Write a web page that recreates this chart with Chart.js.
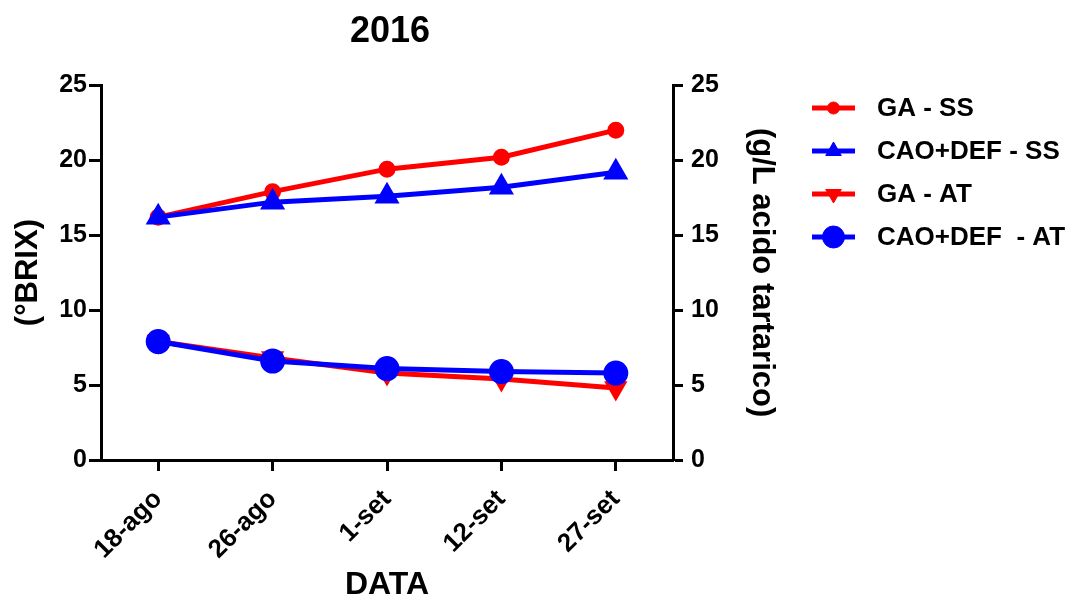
<!DOCTYPE html>
<html>
<head>
<meta charset="utf-8">
<title>2016</title>
<script src="https://cdn.jsdelivr.net/npm/chart.js@4/dist/chart.umd.min.js"></script>
<style>
  html, body { margin: 0; padding: 0; background: #ffffff; }
  #wrap { width: 1072px; height: 601px; }
</style>
</head>
<body>
<div id="wrap"><canvas id="chart" width="1072" height="601"></canvas></div>
<script>
// Sampling dates
const dates = ['18-ago', '26-ago', '1-set', '12-set', '27-set'];

// Soluble solids (°BRIX)
const gaSS = [16.2, 17.9, 19.4, 20.2, 22.0];
const caoDefSS = [16.2, 17.2, 17.6, 18.2, 19.2];

// Titratable acidity (g/L tartaric acid)
const gaAT = [7.9, 6.8, 5.8, 5.4, 4.8];
const caoDefAT = [7.9, 6.6, 6.1, 5.9, 5.8];

// Axis tick values shared by both vertical axes
const yTicks = [0, 5, 10, 15, 20, 25];

const seriesNames = ['GA - SS', 'CAO+DEF - SS', 'GA - AT', 'CAO+DEF  - AT'];

const RED = '#ff0000';
const BLUE = '#0000ff';
const FONT = '"Liberation Sans", Arial, Helvetica, sans-serif';

Chart.defaults.font.family = FONT;
Chart.defaults.font.weight = 'bold';
Chart.defaults.color = '#000000';

// Legend drawn to the right of the plot: line sample with marker, then label
const sideLegend = {
  id: 'sideLegend',
  afterDraw(chart) {
    const ctx = chart.ctx;
    const rows = [108, 151, 194, 237];
    const x0 = 812, x1 = 855, tx = 877;
    ctx.save();
    chart.data.datasets.forEach((ds, i) => {
      const y = rows[i];
      ctx.strokeStyle = ds.borderColor;
      ctx.fillStyle = ds.backgroundColor;
      ctx.lineWidth = 5;
      ctx.beginPath();
      ctx.moveTo(x0, y);
      ctx.lineTo(x1, y);
      ctx.stroke();
      const opts = {
        pointStyle: ds.pointStyle,
        rotation: ds.pointRotation || 0,
        radius: ds.legendRadius,
        borderWidth: 1
      };
      ctx.lineWidth = 1;
      Chart.helpers.drawPoint(ctx, opts, (x0 + x1) / 2, y);
      ctx.fillStyle = '#000000';
      ctx.font = 'bold 26px ' + FONT;
      ctx.textBaseline = 'middle';
      ctx.textAlign = 'left';
      ctx.fillText(ds.label, tx, y + 1);
    });
    ctx.restore();
  }
};

const yAxisBase = (position, width, title, tickLen, tickPad, titlePad) => ({
  type: 'linear',
  position: position,
  min: 0,
  max: 25,
  afterBuildTicks: (scale) => { scale.ticks = yTicks.map(v => ({ value: v })); },
  afterFit: (scale) => { scale.width = width; },
  border: { display: true, color: '#000000', width: 3 },
  grid: {
    drawOnChartArea: false,
    drawTicks: true,
    tickLength: tickLen,
    tickWidth: 3,
    tickColor: '#000000'
  },
  ticks: {
    color: '#000000',
    padding: tickPad,
    font: { size: 25, weight: 'bold' }
  },
  title: {
    display: true,
    text: title,
    color: '#000000',
    font: { size: 31, weight: 'bold' },
    padding: { top: titlePad, bottom: 0 }
  }
});

new Chart(document.getElementById('chart'), {
  type: 'line',
  data: {
    labels: dates,
    datasets: [
      {
        label: seriesNames[0], data: gaSS, yAxisID: 'y',
        borderColor: RED, backgroundColor: RED, borderWidth: 5,
        pointStyle: 'circle', pointRadius: 6, legendRadius: 6, order: 3
      },
      {
        label: seriesNames[1], data: caoDefSS, yAxisID: 'y',
        borderColor: BLUE, backgroundColor: BLUE, borderWidth: 5,
        pointStyle: 'triangle', pointRadius: 9.5, legendRadius: 9, order: 1
      },
      {
        label: seriesNames[2], data: gaAT, yAxisID: 'y1',
        borderColor: RED, backgroundColor: RED, borderWidth: 5,
        pointStyle: 'triangle', pointRotation: 180, pointRadius: 8.5, legendRadius: 9, order: 2
      },
      {
        label: seriesNames[3], data: caoDefAT, yAxisID: 'y1',
        borderColor: BLUE, backgroundColor: BLUE, borderWidth: 5,
        pointStyle: 'circle', pointRadius: 10, legendRadius: 11, order: 0
      }
    ]
  },
  options: {
    responsive: false,
    animation: false,
    devicePixelRatio: 1,
    layout: { padding: { left: 0, right: 292, top: 0, bottom: 0 } },
    elements: {
      line: { tension: 0 },
      point: { borderWidth: 1, hoverRadius: 10 }
    },
    plugins: {
      legend: { display: false },
      tooltip: { enabled: false },
      title: {
        display: true,
        text: '2016',
        color: '#000000',
        font: { size: 36, weight: 'bold' },
        padding: { top: 10, bottom: 32 }
      }
    },
    scales: {
      x: {
        type: 'category',
        offset: true,
        afterFit: (scale) => { scale.height = 141; },
        border: { display: true, color: '#000000', width: 3 },
        grid: {
          offset: false,
          drawOnChartArea: false,
          drawTicks: true,
          tickLength: 11,
          tickWidth: 3,
          tickColor: '#000000'
        },
        ticks: {
          color: '#000000',
          minRotation: 45,
          maxRotation: 45,
          padding: 13,
          font: { size: 26, weight: 'bold' }
        },
        title: {
          display: true,
          text: 'DATA',
          color: '#000000',
          font: { size: 32, weight: 'bold', lineHeight: 1.0 },
          padding: { top: 0, bottom: 0 }
        }
      },
      y: yAxisBase('left', 101, '(°BRIX)', 12, 2, 10),
      y1: yAxisBase('right', 107, '(g/L acido tartarico)', 10, 8, 0)
    }
  },
  plugins: [sideLegend]
});
</script>
</body>
</html>
